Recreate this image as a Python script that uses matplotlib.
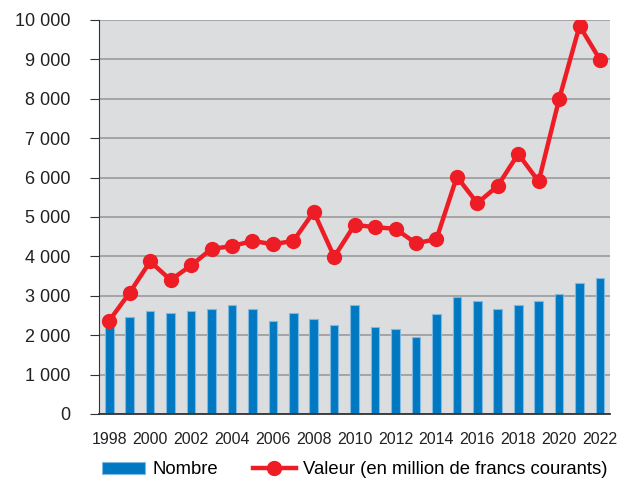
import numpy as np
import matplotlib.pyplot as plt
from matplotlib.ticker import FuncFormatter

plt.rcParams['font.family'] = ['Liberation Sans', 'DejaVu Sans']

# Data
years = list(range(1998, 2023))
nombre = [2350, 2470, 2620, 2570, 2620, 2670, 2770, 2670, 2360, 2570, 2420, 2260, 2770,
          2210, 2160, 1960, 2530, 2980, 2880, 2670, 2770, 2880, 3040, 3330, 3440]
valeur = [2370, 3080, 3870, 3400, 3770, 4190, 4260, 4390, 4310, 4390, 5130, 3990, 4800,
          4740, 4700, 4330, 4440, 6020, 5350, 5790, 6600, 5900, 7990, 9850, 8990]

fig = plt.figure(figsize=(6.35, 4.8), dpi=100)
ax = fig.add_axes([0.156, 0.1375, 0.805, 0.821])
ax.set_facecolor('#dcdddf')

bars = ax.bar(years, nombre, width=0.42, color='#0079c2', edgecolor='#7fb9e2', linewidth=0.8,
              label='Nombre', zorder=2)
line, = ax.plot(years, valeur, color='#ee1d25', linewidth=3.2, marker='o', markersize=10,
                label='Valeur (en million de francs courants)', zorder=3)

ax.set_xlim(1997.5, 2022.5)
ax.set_ylim(0, 10000)
ax.set_yticks(np.arange(0, 10001, 1000))
ax.yaxis.set_major_formatter(FuncFormatter(lambda v, p: f'{int(v):,}'.replace(',', ' ')))
ax.set_xticks(range(1998, 2023, 2))
ax.grid(axis='y', color='#9a9a9a', linewidth=1.2, zorder=1)
ax.set_axisbelow(True)

for s in ['top', 'right']:
    ax.spines[s].set_visible(False)
ax.spines['left'].set_color('#333333')
ax.spines['bottom'].set_color('#333333')
ax.spines['bottom'].set_linewidth(1.3)
ax.tick_params(axis='y', length=6.5, color='#333333', pad=14, labelsize=13, labelcolor='#222222')
ax.tick_params(axis='x', length=0, pad=13, labelsize=11.5, labelcolor='#222222')

fig.legend([bars, line], ['Nombre', 'Valeur (en million de francs courants)'],
           loc='center', bbox_to_anchor=(0.559, 10 / 480), ncol=2, frameon=False,
           fontsize=13.3, handlelength=2.3, handleheight=0.55, columnspacing=1.9,
           handletextpad=0.4, borderpad=0)

fig.savefig('out.png', dpi=100)
